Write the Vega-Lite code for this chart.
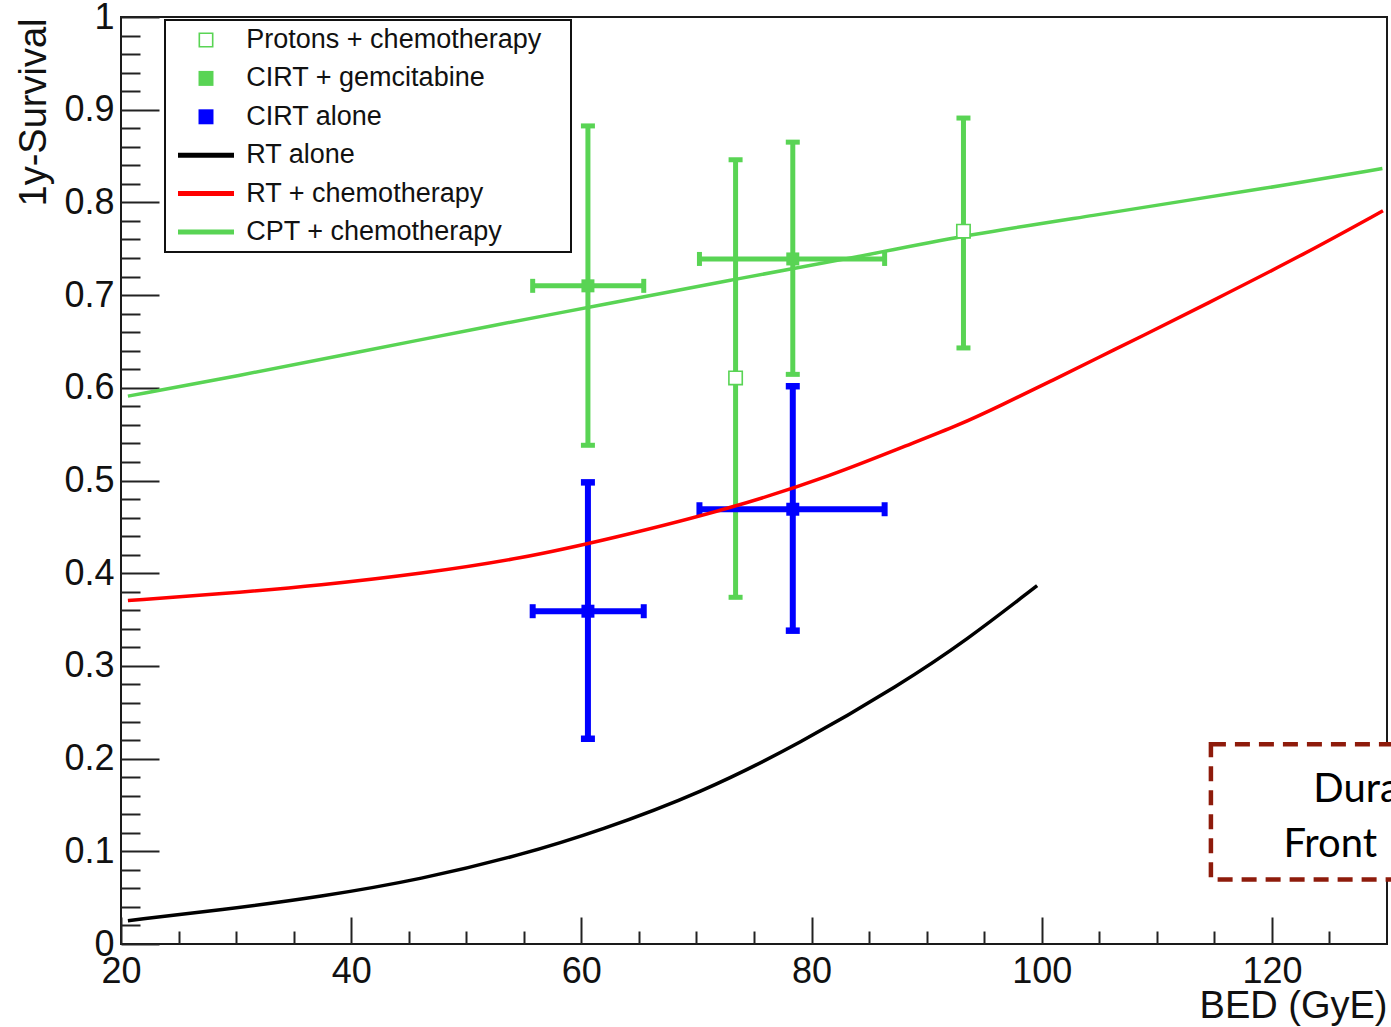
{
  "$schema": "https://vega.github.io/schema/vega-lite/v6.json",
  "autosize": {"type": "none"},
  "width": 1266,
  "height": 927,
  "padding": {"left": 121, "top": 17, "right": 4, "bottom": 83},
  "background": "white",
  "config": {
    "view": {"stroke": "#1a1a1a", "strokeWidth": 2},
    "font": "Liberation Sans",
    "legend": {"strokeWidth": 2}
  },
  "datasets": {
    "curves": [
      {"series": "CPT + chemotherapy", "x": 20.6, "y": 0.591},
      {"series": "CPT + chemotherapy", "x": 30.2, "y": 0.613},
      {"series": "CPT + chemotherapy", "x": 40.0, "y": 0.637},
      {"series": "CPT + chemotherapy", "x": 53.0, "y": 0.669},
      {"series": "CPT + chemotherapy", "x": 61.65, "y": 0.689},
      {"series": "CPT + chemotherapy", "x": 73.25, "y": 0.717},
      {"series": "CPT + chemotherapy", "x": 84.8, "y": 0.743},
      {"series": "CPT + chemotherapy", "x": 93.5, "y": 0.765},
      {"series": "CPT + chemotherapy", "x": 105.1, "y": 0.787},
      {"series": "CPT + chemotherapy", "x": 113.0, "y": 0.803},
      {"series": "CPT + chemotherapy", "x": 121.4, "y": 0.819},
      {"series": "CPT + chemotherapy", "x": 129.6, "y": 0.8366},
      {"series": "RT + chemotherapy", "x": 20.6, "y": 0.3705},
      {"series": "RT + chemotherapy", "x": 28.7, "y": 0.3776},
      {"series": "RT + chemotherapy", "x": 37.4, "y": 0.387},
      {"series": "RT + chemotherapy", "x": 46.1, "y": 0.3995},
      {"series": "RT + chemotherapy", "x": 54.8, "y": 0.4158},
      {"series": "RT + chemotherapy", "x": 62.5, "y": 0.437},
      {"series": "RT + chemotherapy", "x": 73.25, "y": 0.4705},
      {"series": "RT + chemotherapy", "x": 81.9, "y": 0.506},
      {"series": "RT + chemotherapy", "x": 87.74, "y": 0.5353},
      {"series": "RT + chemotherapy", "x": 92.96, "y": 0.5605},
      {"series": "RT + chemotherapy", "x": 96.43, "y": 0.581},
      {"series": "RT + chemotherapy", "x": 100.78, "y": 0.607},
      {"series": "RT + chemotherapy", "x": 105.13, "y": 0.634},
      {"series": "RT + chemotherapy", "x": 108.6, "y": 0.655},
      {"series": "RT + chemotherapy", "x": 113.9, "y": 0.688},
      {"series": "RT + chemotherapy", "x": 122.65, "y": 0.743},
      {"series": "RT + chemotherapy", "x": 129.65, "y": 0.791},
      {"series": "RT alone", "x": 20.6, "y": 0.0252},
      {"series": "RT alone", "x": 28.7, "y": 0.0367},
      {"series": "RT alone", "x": 37.4, "y": 0.051},
      {"series": "RT alone", "x": 46.1, "y": 0.0698},
      {"series": "RT alone", "x": 54.8, "y": 0.0961},
      {"series": "RT alone", "x": 61.65, "y": 0.1225},
      {"series": "RT alone", "x": 70.35, "y": 0.1627},
      {"series": "RT alone", "x": 79.04, "y": 0.2167},
      {"series": "RT alone", "x": 87.7, "y": 0.2797},
      {"series": "RT alone", "x": 93.5, "y": 0.328},
      {"series": "RT alone", "x": 99.6, "y": 0.3866}
    ],
    "points": [
      {"series": "Protons + chemotherapy", "x": 73.4, "y": 0.6106, "ylo": 0.374, "yhi": 0.846},
      {"series": "Protons + chemotherapy", "x": 93.2, "y": 0.769, "ylo": 0.643, "yhi": 0.891},
      {"series": "CIRT + gemcitabine", "x": 60.57, "y": 0.710, "xlo": 55.77, "xhi": 65.42, "ylo": 0.538, "yhi": 0.8825},
      {"series": "CIRT + gemcitabine", "x": 78.37, "y": 0.739, "xlo": 70.26, "xhi": 86.35, "ylo": 0.6145, "yhi": 0.865},
      {"series": "CIRT alone", "x": 60.57, "y": 0.359, "xlo": 55.77, "xhi": 65.42, "ylo": 0.2214, "yhi": 0.498},
      {"series": "CIRT alone", "x": 78.37, "y": 0.469, "xlo": 70.26, "xhi": 86.35, "ylo": 0.338, "yhi": 0.6017}
    ],
    "notebox": [
      {"x1": 114.7, "x2": 140, "y1": 0.0695, "y2": 0.2155}
    ],
    "notetext": [
      {"label": "Dura", "x": 123.6, "y": 0.1537},
      {"label": "Front", "x": 121.0, "y": 0.0943}
    ]
  },
  "layer": [
    {
      "data": {"name": "points"},
      "transform": [{"filter": "datum.series !== 'CIRT alone'"}],
      "mark": {"type": "rule", "color": "#59d454", "strokeWidth": 5},
      "encoding": {
        "x": {
          "field": "x", "type": "quantitative",
          "scale": {"domain": [20, 130], "nice": false, "zero": false},
          "axis": {
            "title": "BED (GyE)",
            "values": [20, 25, 30, 35, 40, 45, 50, 55, 60, 65, 70, 75, 80, 85, 90, 95, 100, 105, 110, 115, 120, 125],
            "tickCount": 200,
            "domain": false, "grid": false,
            "tickSize": -27, "tickWidth": 2, "tickColor": "#222222", "tickCap": "butt",
            "tickDash": {"condition": {"test": "datum.value % 20 != 0", "value": [13, 200]}, "value": [100, 0]},
            "labelExpr": "datum.value % 20 == 0 ? format(datum.value, 'd') : ''",
            "labelFont": "Liberation Sans", "labelFontSize": 36, "labelColor": "#111111",
            "labelPadding": 37, "labelFlush": false, "labelOverlap": false, "labelBaseline": "top",
            "titleFont": "Liberation Sans", "titleFontSize": 38, "titleFontWeight": "normal", "titleColor": "#111111",
            "titleAnchor": "end", "titleAlign": "right", "titleBaseline": "alphabetic", "titleX": 1266, "titleY": 73
          }
        },
        "y": {
          "field": "ylo", "type": "quantitative",
          "scale": {"domain": [0, 1], "nice": false, "zero": false},
          "axis": {
            "title": "1y-Survival",
            "values": [0, 0.02, 0.04, 0.06, 0.08, 0.1, 0.12, 0.14, 0.16, 0.18, 0.2, 0.22, 0.24, 0.26, 0.28, 0.3, 0.32, 0.34, 0.36, 0.38, 0.4, 0.42, 0.44, 0.46, 0.48, 0.5, 0.52, 0.54, 0.56, 0.58, 0.6, 0.62, 0.64, 0.66, 0.68, 0.7, 0.72, 0.74, 0.76, 0.78, 0.8, 0.82, 0.84, 0.86, 0.88, 0.9, 0.92, 0.94, 0.96, 0.98, 1],
            "tickCount": 200,
            "domain": false, "grid": false,
            "tickSize": -38, "tickWidth": 2, "tickColor": "#222222", "tickCap": "butt",
            "tickDash": {"condition": {"test": "abs(datum.value*10 - round(datum.value*10)) > 0.001", "value": [19, 200]}, "value": [100, 0]},
            "labelExpr": "abs(datum.value*10 - round(datum.value*10)) < 0.001 ? format(datum.value, '~g') : ''",
            "labelFont": "Liberation Sans", "labelFontSize": 36, "labelColor": "#111111",
            "labelPadding": 45, "labelFlush": false, "labelOverlap": false, "labelBaseline": "middle", "labelAlign": "right",
            "titleFont": "Liberation Sans", "titleFontSize": 38, "titleFontWeight": "normal", "titleColor": "#111111",
            "titleAnchor": "end", "titleAngle": -90, "titleAlign": "right", "titleBaseline": "alphabetic", "titleX": -76, "titleY": 1
          }
        },
        "y2": {"field": "yhi"}
      }
    },
    {
      "data": {"name": "points"},
      "transform": [{"filter": "datum.series === 'CIRT alone'"}],
      "mark": {"type": "rule", "color": "#0000ff", "strokeWidth": 6},
      "encoding": {
        "x": {"field": "x", "type": "quantitative"},
        "y": {"field": "ylo", "type": "quantitative"},
        "y2": {"field": "yhi"}
      }
    },
    {
      "data": {"name": "points"},
      "transform": [{"filter": "datum.series === 'CIRT + gemcitabine'"}],
      "mark": {"type": "rule", "color": "#59d454", "strokeWidth": 5},
      "encoding": {
        "x": {"field": "xlo", "type": "quantitative"},
        "x2": {"field": "xhi"},
        "y": {"field": "y", "type": "quantitative"}
      }
    },
    {
      "data": {"name": "points"},
      "transform": [{"filter": "datum.series === 'CIRT alone'"}],
      "mark": {"type": "rule", "color": "#0000ff", "strokeWidth": 6},
      "encoding": {
        "x": {"field": "xlo", "type": "quantitative"},
        "x2": {"field": "xhi"},
        "y": {"field": "y", "type": "quantitative"}
      }
    },
    {
      "data": {"name": "points"},
      "transform": [{"filter": "datum.series !== 'CIRT alone'"}, {"fold": ["ylo", "yhi"], "as": ["end", "yv"]}],
      "mark": {"type": "tick", "orient": "horizontal", "color": "#59d454", "size": 14, "thickness": 5, "opacity": 1},
      "encoding": {
        "x": {"field": "x", "type": "quantitative"},
        "y": {"field": "yv", "type": "quantitative"}
      }
    },
    {
      "data": {"name": "points"},
      "transform": [{"filter": "datum.series === 'CIRT alone'"}, {"fold": ["ylo", "yhi"], "as": ["end", "yv"]}],
      "mark": {"type": "tick", "orient": "horizontal", "color": "#0000ff", "size": 14, "thickness": 6.5, "opacity": 1},
      "encoding": {
        "x": {"field": "x", "type": "quantitative"},
        "y": {"field": "yv", "type": "quantitative"}
      }
    },
    {
      "data": {"name": "points"},
      "transform": [{"filter": "datum.series === 'CIRT + gemcitabine'"}, {"fold": ["xlo", "xhi"], "as": ["end", "xv"]}],
      "mark": {"type": "tick", "orient": "vertical", "color": "#59d454", "size": 14, "thickness": 5, "opacity": 1},
      "encoding": {
        "x": {"field": "xv", "type": "quantitative"},
        "y": {"field": "y", "type": "quantitative"}
      }
    },
    {
      "data": {"name": "points"},
      "transform": [{"filter": "datum.series === 'CIRT alone'"}, {"fold": ["xlo", "xhi"], "as": ["end", "xv"]}],
      "mark": {"type": "tick", "orient": "vertical", "color": "#0000ff", "size": 14, "thickness": 6, "opacity": 1},
      "encoding": {
        "x": {"field": "xv", "type": "quantitative"},
        "y": {"field": "y", "type": "quantitative"}
      }
    },
    {
      "data": {"name": "curves"},
      "transform": [{"filter": "datum.series === 'RT alone'"}],
      "mark": {"type": "line", "strokeWidth": 3.5, "interpolate": "basis", "color": "#000000"},
      "encoding": {
        "x": {"field": "x", "type": "quantitative"},
        "y": {"field": "y", "type": "quantitative"}
      }
    },
    {
      "data": {"name": "curves"},
      "transform": [{"filter": "datum.series === 'RT + chemotherapy'"}],
      "mark": {"type": "line", "strokeWidth": 3.5, "interpolate": "basis", "color": "#ff0000"},
      "encoding": {
        "x": {"field": "x", "type": "quantitative"},
        "y": {"field": "y", "type": "quantitative"}
      }
    },
    {
      "data": {"name": "curves"},
      "transform": [{"filter": "datum.series === 'CPT + chemotherapy'"}],
      "mark": {"type": "line", "strokeWidth": 3.5, "interpolate": "basis", "color": "#59d454"},
      "encoding": {
        "x": {"field": "x", "type": "quantitative"},
        "y": {"field": "y", "type": "quantitative"}
      }
    },
    {
      "data": {"name": "points"},
      "transform": [{"filter": "datum.series === 'CIRT + gemcitabine'"}],
      "mark": {"type": "point", "shape": "square", "filled": true, "size": 169, "opacity": 1, "color": "#59d454"},
      "encoding": {
        "x": {"field": "x", "type": "quantitative"},
        "y": {"field": "y", "type": "quantitative"}
      }
    },
    {
      "data": {"name": "points"},
      "transform": [{"filter": "datum.series === 'CIRT alone'"}],
      "mark": {"type": "point", "shape": "square", "filled": true, "size": 169, "opacity": 1, "color": "#0000ff"},
      "encoding": {
        "x": {"field": "x", "type": "quantitative"},
        "y": {"field": "y", "type": "quantitative"}
      }
    },
    {
      "data": {"name": "points"},
      "transform": [{"filter": "datum.series === 'Protons + chemotherapy'"}],
      "mark": {"type": "point", "shape": "square", "filled": true, "size": 150, "opacity": 1, "color": "#ffffff"},
      "encoding": {
        "x": {"field": "x", "type": "quantitative"},
        "y": {"field": "y", "type": "quantitative"}
      }
    },
    {
      "data": {"name": "points"},
      "transform": [{"filter": "datum.series === 'Protons + chemotherapy'"}],
      "mark": {"type": "point", "filled": true, "strokeWidth": 0, "size": 196, "opacity": 1},
      "encoding": {
        "x": {"field": "x", "type": "quantitative"},
        "y": {"field": "y", "type": "quantitative"},
        "color": {
          "field": "series", "type": "nominal",
          "scale": {
            "domain": ["Protons + chemotherapy", "CIRT + gemcitabine", "CIRT alone", "RT alone", "RT + chemotherapy", "CPT + chemotherapy"],
            "range": ["#59d454", "#59d454", "#0000ff", "#000000", "#ff0000", "#59d454"]
          },
          "legend": {
            "title": " ", "titleOrient": "right", "titlePadding": 23, "titleFontSize": 4,
            "orient": "none", "legendX": 44, "legendY": 3, "direction": "vertical",
            "padding": 6.5, "strokeColor": "#111111", "fillColor": "white",
            "symbolSize": 196, "symbolOffset": 21, "labelOffset": 26.8, "symbolStrokeWidth": 0,
            "labelFont": "Liberation Sans", "labelFontSize": 27, "labelColor": "#111111", "labelLimit": 600,
            "rowPadding": 10.4
          }
        },
        "shape": {
          "field": "series", "type": "nominal",
          "scale": {
            "domain": ["Protons + chemotherapy", "CIRT + gemcitabine", "CIRT alone", "RT alone", "RT + chemotherapy", "CPT + chemotherapy"],
            "range": [
              "M-1.07,-1.07H1.07V1.07H-1.07Z M-0.84,-0.84V0.84H0.84V-0.84Z",
              "M-1.07,-1.07H1.07V1.07H-1.07Z",
              "M-1.07,-1.07H1.07V1.07H-1.07Z",
              "M-4,-0.36H4V0.36H-4Z", "M-4,-0.36H4V0.36H-4Z", "M-4,-0.36H4V0.36H-4Z"
            ]
          },
          "legend": {
            "title": " ", "titleOrient": "right", "titlePadding": 23, "titleFontSize": 4,
            "orient": "none", "legendX": 44, "legendY": 3, "direction": "vertical",
            "padding": 6.5, "strokeColor": "#111111", "fillColor": "white",
            "symbolSize": 196, "symbolOffset": 21, "labelOffset": 26.8, "symbolStrokeWidth": 0,
            "labelFont": "Liberation Sans", "labelFontSize": 27, "labelColor": "#111111", "labelLimit": 600,
            "rowPadding": 10.4
          }
        }
      }
    },
    {
      "data": {"name": "notebox"},
      "mark": {"type": "rect", "fill": "white", "stroke": "#8e1b0b", "strokeWidth": 4.5, "strokeDash": [15, 9], "clip": false},
      "encoding": {
        "x": {"field": "x1", "type": "quantitative"},
        "x2": {"field": "x2"},
        "y": {"field": "y1", "type": "quantitative"},
        "y2": {"field": "y2"}
      }
    },
    {
      "data": {"name": "notetext"},
      "mark": {"type": "text", "font": "Lato", "fontSize": 40, "align": "left", "baseline": "alphabetic", "color": "#000000", "clip": false},
      "encoding": {
        "x": {"field": "x", "type": "quantitative"},
        "y": {"field": "y", "type": "quantitative"},
        "text": {"field": "label"}
      }
    }
  ]
}
